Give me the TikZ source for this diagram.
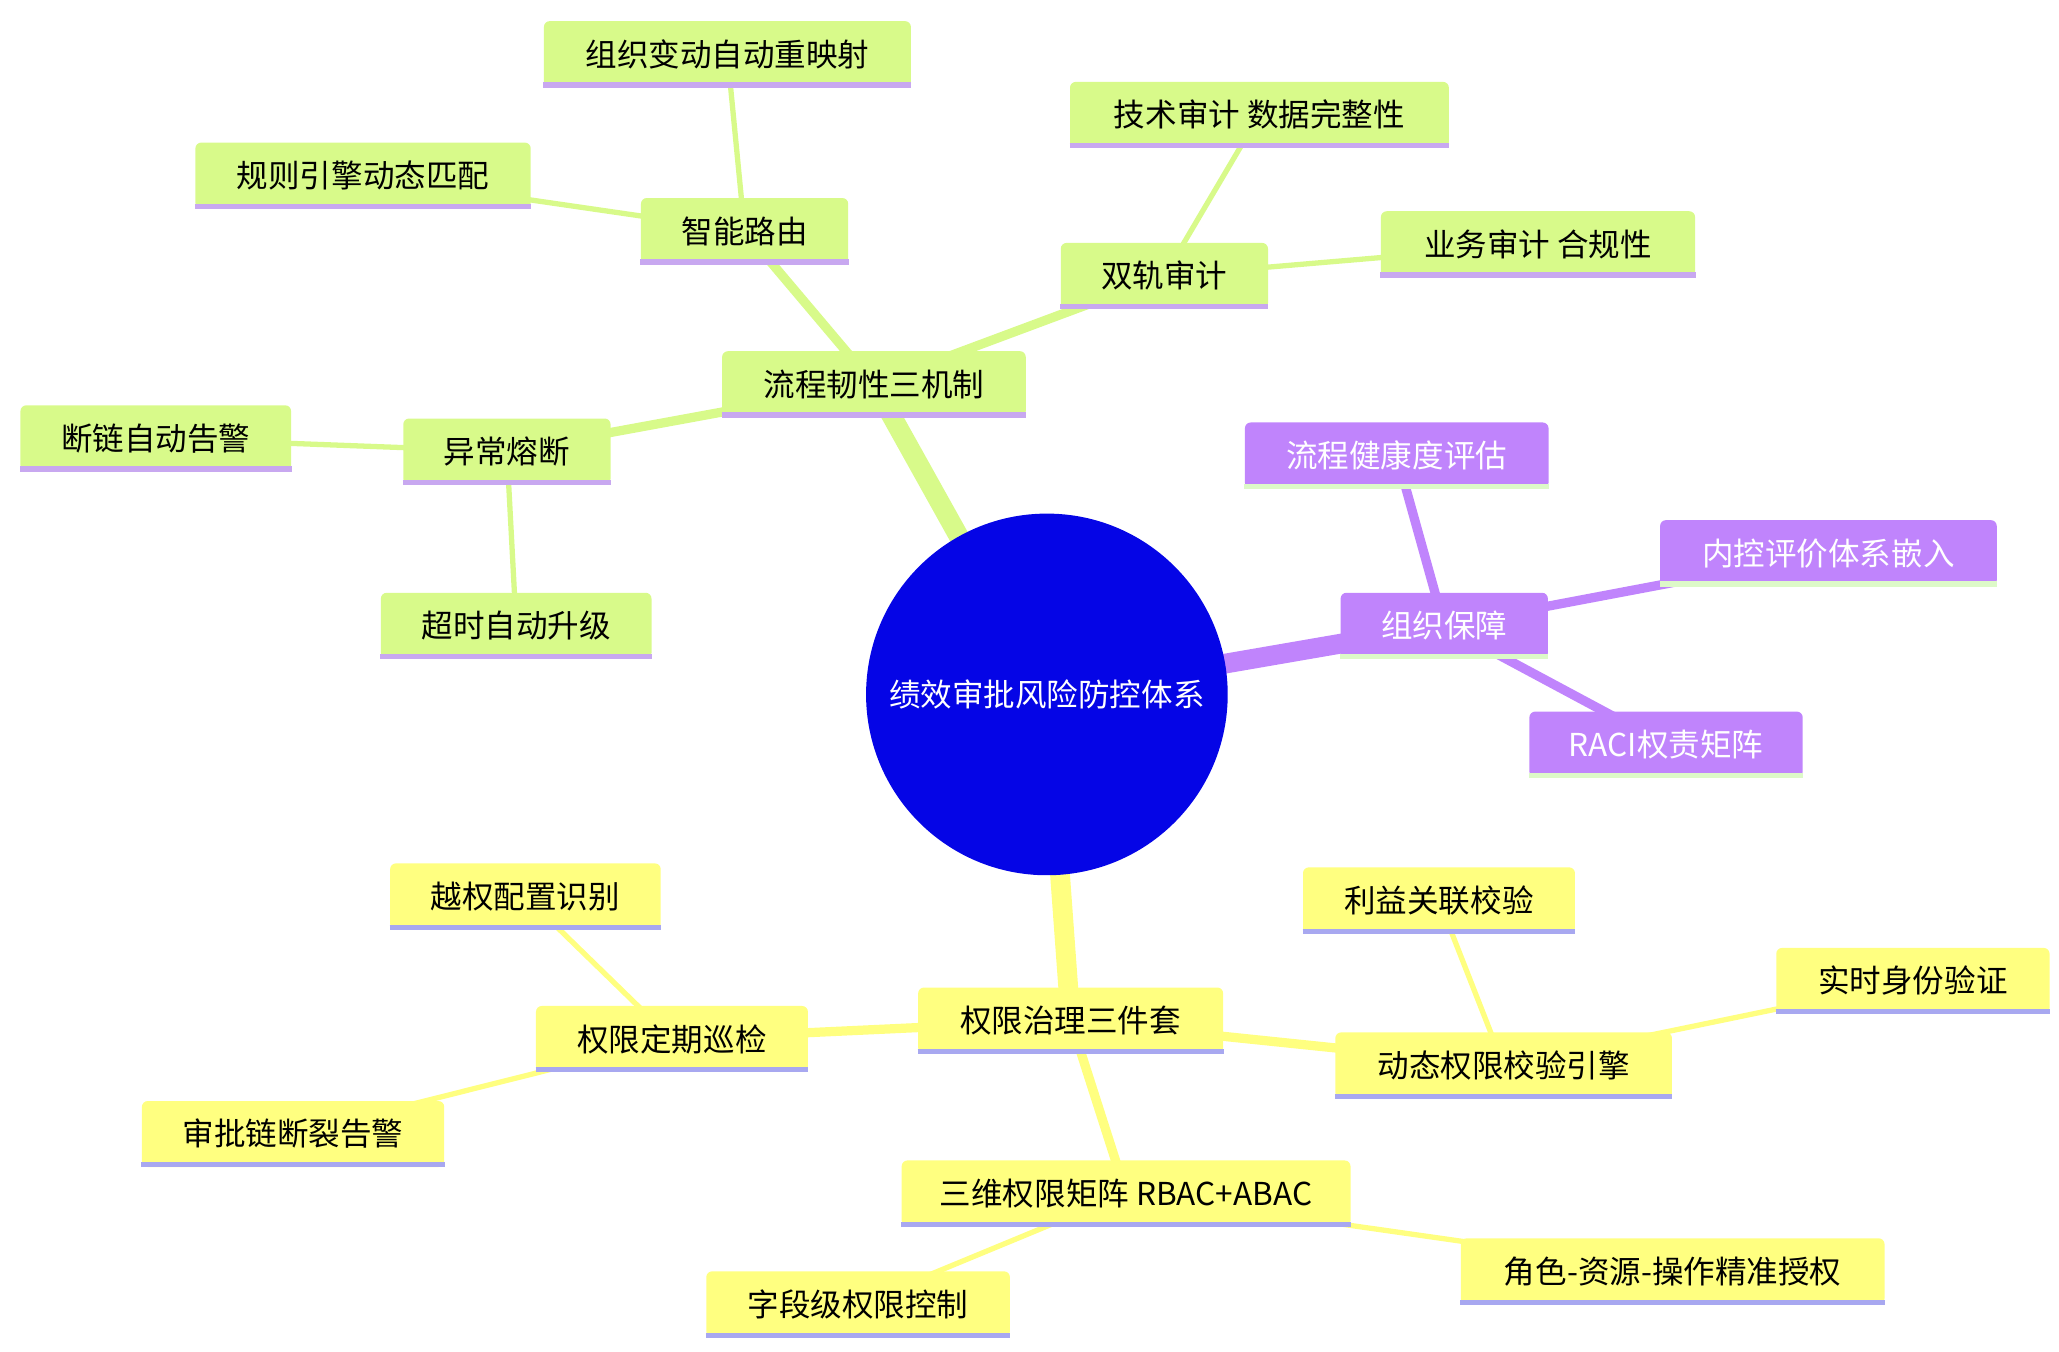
\documentclass[tikz,border=0pt]{standalone}
\usepackage{fontspec}
\setmainfont{Noto Sans CJK SC}
\usetikzlibrary{backgrounds}
\definecolor{gfill}{HTML}{D8FA8A}
\definecolor{gline}{HTML}{C8A8F0}
\definecolor{yfill}{HTML}{FFFF80}
\definecolor{yline}{HTML}{A8A8F0}
\definecolor{pfill}{HTML}{C084FC}
\definecolor{pline}{HTML}{DDF9C8}
\definecolor{rootc}{HTML}{0505E6}
\tikzset{
  box/.style={rectangle, rounded corners=2.5pt, inner xsep=0pt, minimum height=1cm, font=\fontsize{13.6}{16}\selectfont, anchor=center},
  gbox/.style={box, fill=gfill, text=black},
  ybox/.style={box, fill=yfill, text=black},
  pbox/.style={box, fill=pfill, text=white},
  ge/.style={draw=gfill}, ye/.style={draw=yfill}, pe/.style={draw=pfill},
  l1/.style={line width=0.3cm}, l2/.style={line width=0.14cm}, l3/.style={line width=0.08cm}
}
\newcommand{\mn}[7]{% name x y style linecolor width text
  \node[#4, minimum width=#6*0.02cm] (#1) at (#2*0.02,-#3*0.02) {#7};
  \draw[#5, line width=0.08cm] ([yshift=0.04cm]#1.south west) -- ([yshift=0.04cm]#1.south east);
}
\begin{document}
\begin{tikzpicture}
\useasboundingbox (0,0) rectangle (31.2,-20.48);
\node[circle, fill=rootc, minimum size=5.48cm, text=white, font=\fontsize{13.6}{16}\selectfont] (root) at (793*0.02,-526*0.02) {绩效审批风险防控体系};
\mn{a}{662}{291}{gbox}{gline}{230}{流程韧性三机制}
\mn{a1}{564}{175}{gbox}{gline}{157}{智能路由}
\mn{a11}{551}{41}{gbox}{gline}{278}{组织变动自动重映射}
\mn{a12}{275}{133}{gbox}{gline}{254}{规则引擎动态匹配}
\mn{a2}{882}{209}{gbox}{gline}{157}{双轨审计}
\mn{a21}{954}{87}{gbox}{gline}{287}{技术审计 数据完整性}
\mn{a22}{1165}{185}{gbox}{gline}{238}{业务审计 合规性}
\mn{a3}{384}{342}{gbox}{gline}{157}{异常熔断}
\mn{a31}{118}{332}{gbox}{gline}{205}{断链自动告警}
\mn{a32}{391}{474}{gbox}{gline}{205}{超时自动升级}
\mn{b}{1094}{474}{pbox}{pline}{157}{组织保障}
\mn{b1}{1058}{345}{pbox}{pline}{230}{流程健康度评估}
\mn{b2}{1385}{419}{pbox}{pline}{255}{内控评价体系嵌入}
\mn{b3}{1262}{564}{pbox}{pline}{207}{RACI权责矩阵}
\mn{c}{811}{773}{ybox}{yline}{231}{权限治理三件套}
\mn{c1}{509}{787}{ybox}{yline}{206}{权限定期巡检}
\mn{c11}{398}{679}{ybox}{yline}{205}{越权配置识别}
\mn{c12}{222}{859}{ybox}{yline}{229}{审批链断裂告警}
\mn{c2}{1139}{807}{ybox}{yline}{255}{动态权限校验引擎}
\mn{c21}{1090}{682}{ybox}{yline}{206}{利益关联校验}
\mn{c22}{1449}{743}{ybox}{yline}{207}{实时身份验证}
\mn{c3}{853}{904}{ybox}{yline}{340}{三维权限矩阵 RBAC+ABAC}
\mn{c31}{650}{988}{ybox}{yline}{230}{字段级权限控制}
\mn{c32}{1267}{963}{ybox}{yline}{321}{角色-资源-操作精准授权}
\begin{pgfonlayer}{background}
\draw[ge,l1] (root.center) -- (a.center);
\draw[pe,l1] (root.center) -- (b.center);
\draw[ye,l1] (root.center) -- (c.center);
\draw[ge,l2] (a.center) -- (a1.center);
\draw[ge,l2] (a.center) -- (a2.center);
\draw[ge,l2] (a.center) -- (a3.center);
\draw[ge,l3] (a1.center) -- (a11.center);
\draw[ge,l3] (a1.center) -- (a12.center);
\draw[ge,l3] (a2.center) -- (a21.center);
\draw[ge,l3] (a2.center) -- (a22.center);
\draw[ge,l3] (a3.center) -- (a31.center);
\draw[ge,l3] (a3.center) -- (a32.center);
\draw[pe,l2] (b.center) -- (b1.center);
\draw[pe,l2] (b.center) -- (b2.center);
\draw[pe,l2] (b.center) -- (b3.center);
\draw[ye,l2] (c.center) -- (c1.center);
\draw[ye,l2] (c.center) -- (c2.center);
\draw[ye,l2] (c.center) -- (c3.center);
\draw[ye,l3] (c1.center) -- (c11.center);
\draw[ye,l3] (c1.center) -- (c12.center);
\draw[ye,l3] (c2.center) -- (c21.center);
\draw[ye,l3] (c2.center) -- (c22.center);
\draw[ye,l3] (c3.center) -- (c31.center);
\draw[ye,l3] (c3.center) -- (c32.center);
\end{pgfonlayer}
\end{tikzpicture}
\end{document}
